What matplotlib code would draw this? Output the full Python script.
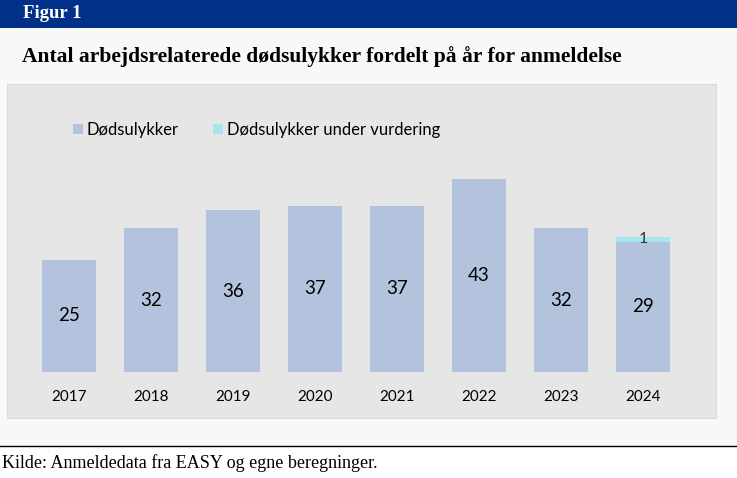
import numpy as np
import matplotlib.pyplot as plt
from matplotlib.patches import Rectangle

years = ['2017', '2018', '2019', '2020', '2021', '2022', '2023', '2024']
ulykker = [25, 32, 36, 37, 37, 43, 32, 29]
under_vurdering = [0, 0, 0, 0, 0, 0, 0, 1]

W, H = 737, 478
fig = plt.figure(figsize=(W / 100, H / 100), dpi=100)
fig.patch.set_facecolor('white')

def fx(px):
    return px / W

def fy(py):
    return 1 - py / H

# page background, header band, chart panel
fig.patches.append(Rectangle((0, fy(446)), 1, fy(28) - fy(446), transform=fig.transFigure,
                             facecolor='#f7f9f7', edgecolor='none', zorder=-3))
fig.patches.append(Rectangle((0, fy(28)), 1, fy(0) - fy(28), transform=fig.transFigure,
                             facecolor='#003087', edgecolor='none', zorder=-3))
fig.patches.append(Rectangle((fx(7), fy(418)), fx(716) - fx(7), fy(84) - fy(418), transform=fig.transFigure,
                             facecolor='#e6e6e6', edgecolor='#d9d9d9', linewidth=0.8, zorder=-2))
fig.lines.append(plt.Line2D([0, 1], [fy(446), fy(446)], transform=fig.transFigure, color='black', linewidth=1))

fig.text(fx(23), fy(14), 'Figur 1', color='white', fontsize=13.5, fontweight='bold',
         family='Liberation Serif', va='center', ha='left')
fig.text(fx(22), fy(57), 'Antal arbejdsrelaterede dødsulykker fordelt på år for anmeldelse',
         color='black', fontsize=15.5, fontweight='bold', family='Liberation Serif', va='center', ha='left')
fig.text(fx(2), fy(463), 'Kilde: Anmeldedata fra EASY og egne beregninger.',
         color='black', fontsize=13, family='Liberation Serif', va='center', ha='left')

ax = fig.add_axes([fx(7), fy(372), fx(716) - fx(7), fy(84) - fy(372)])
ax.set_facecolor('none')
x = np.arange(len(years))
c1, c2 = '#b4c3dd', '#a6e6ee'
ax.bar(x, ulykker, width=0.67, color=c1, label='Dødsulykker')
ax.bar(x, under_vurdering, bottom=ulykker, width=0.67, color=c2, label='Dødsulykker under vurdering')
ax.set_xlim(-0.756, 7.89)
ax.set_ylim(0, 64.1)

for i in x:
    ax.text(i, ulykker[i] / 2, str(ulykker[i]), ha='center', va='center', fontsize=13.5, family='Lato')
    if under_vurdering[i]:
        ax.text(i, ulykker[i] + under_vurdering[i] / 2, str(under_vurdering[i]), ha='center', va='center',
                fontsize=11.5, family='Lato', color='#333333')

ax.set_xticks(x)
ax.set_xticklabels(years, fontsize=11, family='Lato')
ax.tick_params(axis='x', length=0, pad=13)
ax.set_yticks([])
for s in ax.spines.values():
    s.set_visible(False)

handles, labels = ax.get_legend_handles_labels()
fig.legend(handles, labels, loc='center left', bbox_to_anchor=(fx(73), fy(130)), ncol=2,
           frameon=False, prop={'family': 'Lato', 'size': 12}, handlelength=0.6, handleheight=0.6,
           handletextpad=0.2, columnspacing=2.1, borderaxespad=0, borderpad=0)

fig.savefig('out.png', dpi=100, facecolor=fig.get_facecolor())
